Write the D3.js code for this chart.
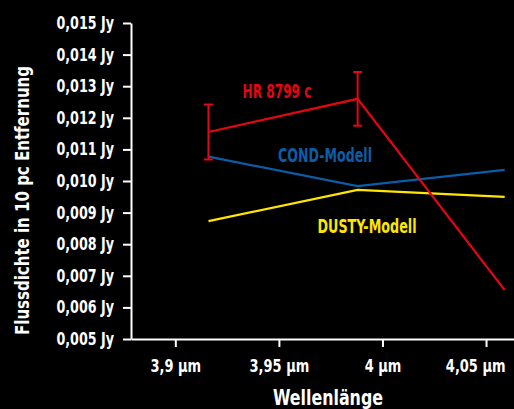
<!DOCTYPE html>
<html lang="de">
<head>
<meta charset="UTF-8">
<title>HR 8799 c</title>
<script src="https://d3js.org/d3.v7.min.js"></script>
<style>
    body { margin: 0; background: #000; }
    svg { display: block; background: #000; }
    text { font-family: "Liberation Sans Narrow", "DejaVu Sans Condensed", "Roboto Condensed", sans-serif; font-weight: bold; }
    .axis path, .axis line { stroke: #fff; stroke-width: 2; }
    .axis text { fill: #fff; font-size: 17px; }
</style>
</head>
<body>
<svg width="514" height="409"></svg>
<script>
// Wellenlängen (µm)
const wellenlaenge = [3.916, 3.988, 4.059];
// HR 8799 c Messung
const hr8799c = [0.01155, 0.0126, 0.00655];
const hr8799cFehler = [0.00087, 0.00085, 0];
// Modelle
const cond = [0.01077, 0.00984, 0.01035];
const dusty = [0.00873, 0.00972, 0.0095];

const yTicks = [0.005, 0.006, 0.007, 0.008, 0.009, 0.010, 0.011, 0.012, 0.013, 0.014, 0.015];
const xTicks = [3.9, 3.95, 4.0, 4.05];

const svg = d3.select("svg");
const W = +svg.attr("width"), H = +svg.attr("height");
const mLeft = 131, mBottom = 339, mTop = 23;

const x = d3.scaleLinear().domain([3.8786, 4.0635]).range([mLeft, W]);
const y = d3.scaleLinear().domain([0.005, 0.015]).range([mBottom, mTop]);

const fmtY = v => v.toFixed(3).replace(".", ",") + " Jy";
const fmtX = v => String(+v.toFixed(2)).replace(".", ",") + " µm";

// schmale Schrift nachbilden
function schmal(sel, faktor) {
    sel.each(function() {
        const len = this.getComputedTextLength();
        d3.select(this).attr("textLength", len * faktor).attr("lengthAdjust", "spacingAndGlyphs");
    });
}

// Achsen
const gy = svg.append("g").attr("class", "axis")
    .attr("transform", `translate(${mLeft},0)`)
    .call(d3.axisLeft(y).tickValues(yTicks).tickFormat(fmtY).tickSize(8).tickSizeOuter(0).tickPadding(9));
schmal(gy.selectAll("text"), 0.83);

const gx = svg.append("g").attr("class", "axis")
    .attr("transform", `translate(0,${mBottom})`)
    .call(d3.axisBottom(x).tickValues(xTicks).tickFormat(fmtX).tickSize(8).tickSizeOuter(0).tickPadding(8));
gx.selectAll("text").attr("dy", "1em");
schmal(gx.selectAll("text"), 0.85);
// letzte Beschriftung rechtsbündig, damit sie ins Bild passt
gx.selectAll("text").filter(d => d === xTicks[xTicks.length - 1])
    .attr("text-anchor", "end").attr("x", 19);

// Achsentitel
svg.append("text")
    .attr("transform", `translate(29,${(66 + 335) / 2}) rotate(-90)`)
    .attr("text-anchor", "middle")
    .attr("fill", "#fff")
    .attr("textLength", 269).attr("lengthAdjust", "spacingAndGlyphs")
    .style("font-size", "20px")
    .text("Flussdichte in 10 pc Entfernung");

svg.append("text")
    .attr("x", 328).attr("y", 405)
    .attr("text-anchor", "middle")
    .attr("fill", "#fff")
    .attr("textLength", 110).attr("lengthAdjust", "spacingAndGlyphs")
    .style("font-size", "21px")
    .text("Wellenlänge");

// Linien
const line = d3.line().x((d, i) => x(wellenlaenge[i])).y(d => y(d));
const serien = [
    {werte: dusty, farbe: "#ffe600"},
    {werte: cond, farbe: "#0a5ea8"},
    {werte: hr8799c, farbe: "#e30613"}
];
serien.forEach(s => {
    svg.append("path")
        .datum(s.werte)
        .attr("d", line)
        .attr("fill", "none")
        .attr("stroke", s.farbe)
        .attr("stroke-width", 2.2);
});

// Fehlerbalken
const fehler = svg.append("g").attr("stroke", "#e30613").attr("stroke-width", 2);
hr8799c.forEach((v, i) => {
    const e = hr8799cFehler[i];
    if (!e) return;
    const cx = x(wellenlaenge[i]);
    fehler.append("line").attr("x1", cx).attr("x2", cx).attr("y1", y(v - e)).attr("y2", y(v + e));
    [v - e, v + e].forEach(w => {
        fehler.append("line").attr("x1", cx - 4.5).attr("x2", cx + 4.5).attr("y1", y(w)).attr("y2", y(w));
    });
});

// Beschriftungen
const labels = [
    {text: "HR 8799 c", x: 277, y: 98, w: 69, farbe: "#e30613"},
    {text: "COND-Modell", x: 325, y: 162, w: 94, farbe: "#0a5ea8"},
    {text: "DUSTY-Modell", x: 367, y: 233, w: 99, farbe: "#ffe600"}
];
labels.forEach(l => {
    svg.append("text")
        .attr("x", l.x).attr("y", l.y)
        .attr("text-anchor", "middle")
        .attr("fill", l.farbe)
        .attr("textLength", l.w).attr("lengthAdjust", "spacingAndGlyphs")
        .style("font-size", "19px")
        .text(l.text);
});
</script>
</body>
</html>
